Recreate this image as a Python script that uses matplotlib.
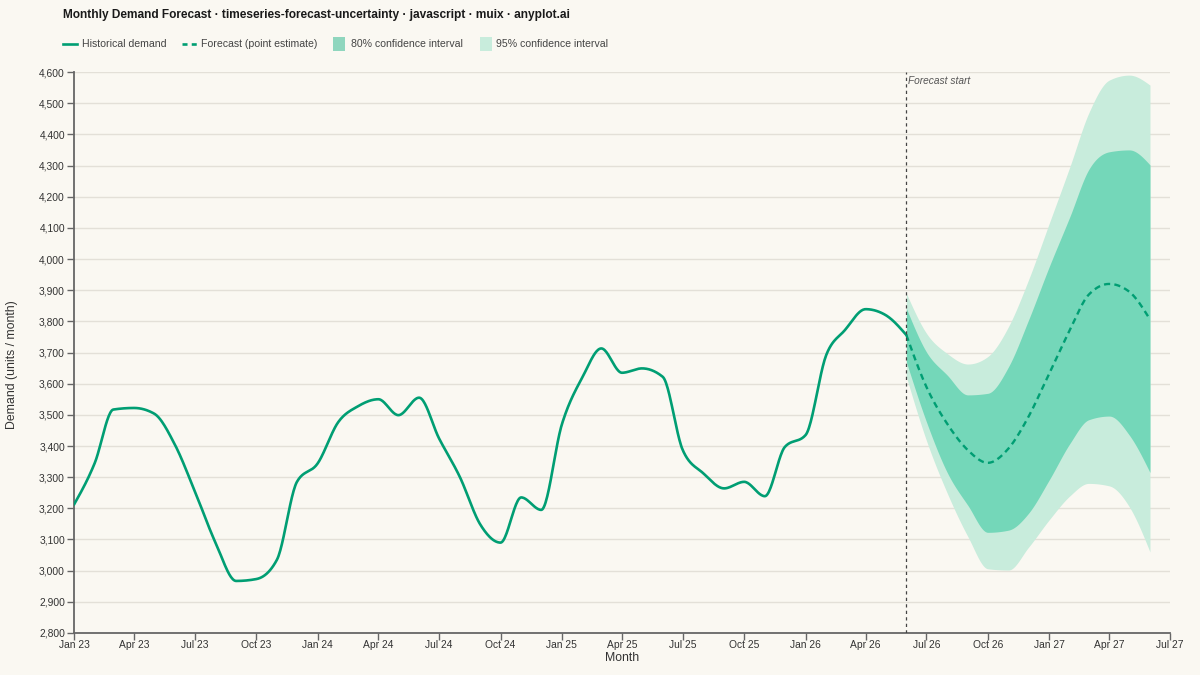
import numpy as np
import matplotlib
matplotlib.use("Agg")
import matplotlib.pyplot as plt
import matplotlib.dates as mdates
from matplotlib.lines import Line2D
from matplotlib.patches import Rectangle
from matplotlib.ticker import FuncFormatter, MultipleLocator
import datetime as dt

# ---------------- data ----------------
hist_start = (2023, 1)
hist_values = [3212, 3345, 3517, 3522, 3504, 3405, 3255, 3090, 2967, 2973, 3035, 3285,
               3344, 3477, 3527, 3550, 3499, 3555, 3424, 3301, 3147, 3090, 3235, 3195,
               3470, 3622, 3713, 3635, 3649, 3622, 3387, 3312, 3264, 3285, 3239, 3397,
               3435, 3692, 3772, 3839, 3820, 3756]
fc_start = (2026, 6)
fc_point = [3756, 3590, 3472, 3387, 3346, 3392, 3494, 3633, 3772, 3885, 3920, 3895, 3806]
fc_upper80 = [3842, 3702, 3628, 3564, 3569, 3654, 3804, 3975, 4136, 4286, 4344, 4350, 4302]
fc_lower80 = [3670, 3478, 3316, 3210, 3123, 3130, 3184, 3291, 3408, 3484, 3496, 3435, 3315]
fc_upper95 = [3890, 3762, 3697, 3663, 3687, 3783, 3933, 4114, 4296, 4467, 4574, 4590, 4558]
fc_lower95 = [3622, 3418, 3250, 3110, 3006, 3002, 3075, 3163, 3240, 3280, 3272, 3205, 3060]

title = "Monthly Demand Forecast · timeseries-forecast-uncertainty · javascript · muix · anyplot.ai"
legend_labels = ["Historical demand", "Forecast (point estimate)",
                 "80% confidence interval", "95% confidence interval"]

# ---------------- helpers ----------------
def month_dates(start, n):
    y, m = start
    out = []
    for i in range(n):
        mm = m - 1 + i
        out.append(dt.datetime(y + mm // 12, mm % 12 + 1, 1))
    return out

def monotone(x, y, k=24):
    x = np.asarray(x, float); y = np.asarray(y, float)
    n = len(x)
    h = np.diff(x); s = np.diff(y) / h
    t = np.zeros(n)
    sg = lambda v: -1.0 if v < 0 else 1.0
    for i in range(1, n - 1):
        p = (s[i-1] * h[i] + s[i] * h[i-1]) / (h[i-1] + h[i])
        t[i] = (sg(s[i-1]) + sg(s[i])) * min(abs(s[i-1]), abs(s[i]), 0.5 * abs(p))
    t[0] = (3 * s[0] - t[1]) / 2
    t[-1] = (3 * s[-1] - t[-2]) / 2
    xs, ys = [], []
    for i in range(n - 1):
        u = np.linspace(0, 1, k, endpoint=(i == n - 2))
        h00 = 2*u**3 - 3*u**2 + 1
        h10 = u**3 - 2*u**2 + u
        h01 = -2*u**3 + 3*u**2
        h11 = u**3 - u**2
        xs.append(x[i] + u * h[i])
        ys.append(h00*y[i] + h10*h[i]*t[i] + h01*y[i+1] + h11*h[i]*t[i+1])
    return np.concatenate(xs), np.concatenate(ys)

# ---------------- style ----------------
BG = "#FAF8F2"
GREEN = "#009E73"
C80 = "#74D7B9"
C95 = "#C8ECDC"
TXT = "#333333"
plt.rcParams['font.family'] = ['Liberation Sans', 'DejaVu Sans']

fig = plt.figure(figsize=(12, 6.75), dpi=100, facecolor=BG)
ax = fig.add_axes([74/1200, 1 - 633/675, (1170 - 74)/1200, (633 - 72)/675])
ax.set_facecolor(BG)

hd = mdates.date2num(month_dates(hist_start, len(hist_values)))
fd = mdates.date2num(month_dates(fc_start, len(fc_point)))

xu95, yu95 = monotone(fd, fc_upper95)
_, yl95 = monotone(fd, fc_lower95)
_, yu80 = monotone(fd, fc_upper80)
_, yl80 = monotone(fd, fc_lower80)
ax.fill_between(xu95, yl95, yu95, color=C95, lw=0, zorder=2)
ax.fill_between(xu95, yl80, yu80, color=C80, lw=0, zorder=3)

hx, hy = monotone(hd, hist_values)
ax.plot(hx, hy, color=GREEN, lw=1.9, solid_capstyle='round', zorder=5)
fx, fy = monotone(fd, fc_point)
ax.plot(fx, fy, color=GREEN, lw=1.7, dashes=(2.6, 1.8), zorder=5)

ax.axvline(fd[0], color="#444444", lw=0.9, dashes=(2.6, 2.6), zorder=6)
ax.text(fd[0] + 3, 4570, "Forecast start", fontsize=7.3, style='italic',
        color="#555555", ha='left', va='center', zorder=7)

x0 = mdates.date2num(dt.datetime(2023, 1, 1))
x1 = mdates.date2num(dt.datetime(2027, 7, 1))
ax.set_xlim(x0, x1)
ax.set_ylim(2800, 4600)
ax.yaxis.set_major_locator(MultipleLocator(100))
ax.yaxis.set_major_formatter(FuncFormatter(lambda v, p: f"{int(v):,}"))
ax.xaxis.set_major_locator(mdates.MonthLocator(bymonth=[1, 4, 7, 10]))
ax.xaxis.set_major_formatter(mdates.DateFormatter("%b %y"))
ax.grid(axis='y', color="#E3E0D8", lw=1.0, zorder=0)
ax.set_axisbelow(True)
for sp in ['top', 'right']:
    ax.spines[sp].set_visible(False)
for sp in ['left', 'bottom']:
    ax.spines[sp].set_color("#666666")
    ax.spines[sp].set_linewidth(1.3)
ax.tick_params(axis='both', length=5, width=1, color="#666666",
               labelsize=7.4, labelcolor=TXT, pad=1.5)
ax.tick_params(axis='x', pad=0.3)

fig.text(622/1200, 1 - 658/675, "Month", fontsize=8.8, color=TXT, ha='center', va='center')
fig.text(12/1200, 1 - 365/675, "Demand (units / month)", fontsize=8.8, color=TXT,
         rotation=90, ha='center', va='center')

# title
fig.text(63/1200, 1 - 15/675, title, fontsize=8.6, fontweight='bold',
         color="#1a1a1a", ha='left', va='center')

# legend (manual)
ly = 1 - 44/675
fig.add_artist(Line2D([63/1200, 77/1200], [ly, ly], color=GREEN, lw=1.9))
fig.text(82/1200, ly, legend_labels[0], fontsize=7.6, color="#444444", va='center')
fig.add_artist(Line2D([182/1200, 197/1200], [ly, ly], color=GREEN, lw=1.9, dashes=(1.9, 1.6)))
fig.text(201/1200, ly, legend_labels[1], fontsize=7.6, color="#444444", va='center')
fig.add_artist(Rectangle((333/1200, ly - 7/675), 12/1200, 14/675, color="#8FD6BE", lw=0))
fig.text(351/1200, ly, legend_labels[2], fontsize=7.6, color="#444444", va='center')
fig.add_artist(Rectangle((480/1200, ly - 7/675), 12/1200, 14/675, color=C95, lw=0))
fig.text(496/1200, ly, legend_labels[3], fontsize=7.6, color="#444444", va='center')

fig.savefig("out.png", dpi=100, facecolor=BG)
